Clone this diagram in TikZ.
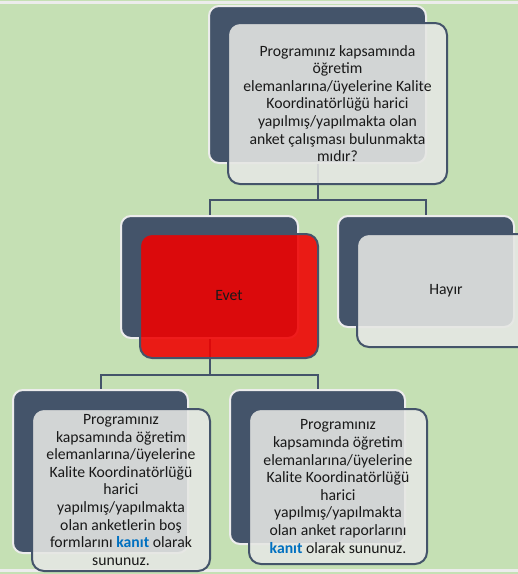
\documentclass[tikz,border=0pt]{standalone}
\usepackage{fontspec}
\setmainfont{Carlito}
\usetikzlibrary{positioning, calc}
\definecolor{bggreen}{HTML}{C5E0B4}
\definecolor{slate}{HTML}{44546A}
\definecolor{rim}{HTML}{ECECEC}
\definecolor{paper}{HTML}{E6E7E4}
\definecolor{hotred}{HTML}{F00000}
\definecolor{linkblue}{HTML}{0070C0}
\newcommand{\kanit}{\textcolor{linkblue}{\textbf{kanıt}}}

\begin{document}
\begin{tikzpicture}[x=1pt, y=-1pt,
    backbox/.style={rounded corners=10pt, fill=slate, draw=rim, line width=2pt,
      anchor=north west, inner sep=0pt},
    frontbox/.style={rounded corners=12pt, fill=paper, fill opacity=0.88, text opacity=1,
      draw=slate, draw opacity=1, line width=2pt, anchor=north west, inner sep=0pt,
      align=center, text=black!90, font=\fontsize{15.7}{17.6}\selectfont},
    conn/.style={draw=slate, line width=2pt}]

      \clip (0,0) rectangle (518,574);
      \fill[bggreen] (0,0) rectangle (518,574);
      \fill[rim] (0,1) rectangle (518,4);
      \fill[rim] (0,569) rectangle (518,572);

      % back plates
      \node[backbox, minimum width=217pt, minimum height=157pt] (qback) at (208,5) {};
      \node[backbox, minimum width=177pt, minimum height=122pt] (evetback) at (120,215) {};
      \node[backbox, minimum width=176pt, minimum height=111pt] (hayirback) at (337,215) {};
      \node[backbox, minimum width=175pt, minimum height=163pt] (formback) at (12,389) {};
      \node[backbox, minimum width=175pt, minimum height=154pt] (raporback) at (229,389) {};

      % connectors
      \draw[conn] (qback.south) -- ++(0,36) -| (evetback.north);
      \draw[conn] (qback.south) -- ++(0,36) -| (hayirback.north);
      \draw[conn] (evetback.south) -- ++(0,36) -| (formback.north);
      \draw[conn] (evetback.south) -- ++(0,36) -| (raporback.north);

      % front cards
      \node[frontbox, minimum width=219pt, minimum height=161pt] (question) at (227,22)
        {Programınız kapsamında\\ öğretim\\ elemanlarına/üyelerine Kalite\\ Koordinatörlüğü harici\\
         yapılmış/yapılmakta olan\\ anket çalışması bulunmakta\\ mıdır?};
      \node[frontbox, fill=hotred, minimum width=178pt, minimum height=124pt] (evet) at (139,233) {Evet};
      \node[frontbox, minimum width=178pt, minimum height=113pt] (hayir) at (356,233) {Hayır};
      \node[frontbox, minimum width=178pt, minimum height=162pt] (formlar) at (31,408)
        {Programınız\\ kapsamında öğretim\\ elemanlarına/üyelerine\\ Kalite Koordinatörlüğü\\ harici\\
         yapılmış/yapılmakta\\ olan anketlerin boş\\ formlarını \kanit{} olarak\\ sununuz.};
      \node[frontbox, minimum width=178pt, minimum height=155pt] (raporlar) at (248,408)
        {Programınız\\ kapsamında öğretim\\ elemanlarına/üyelerine\\ Kalite Koordinatörlüğü\\ harici\\
         yapılmış/yapılmakta\\ olan anket raporlarını\\ \kanit{} olarak sununuz.};

    \end{tikzpicture}
\end{document}
